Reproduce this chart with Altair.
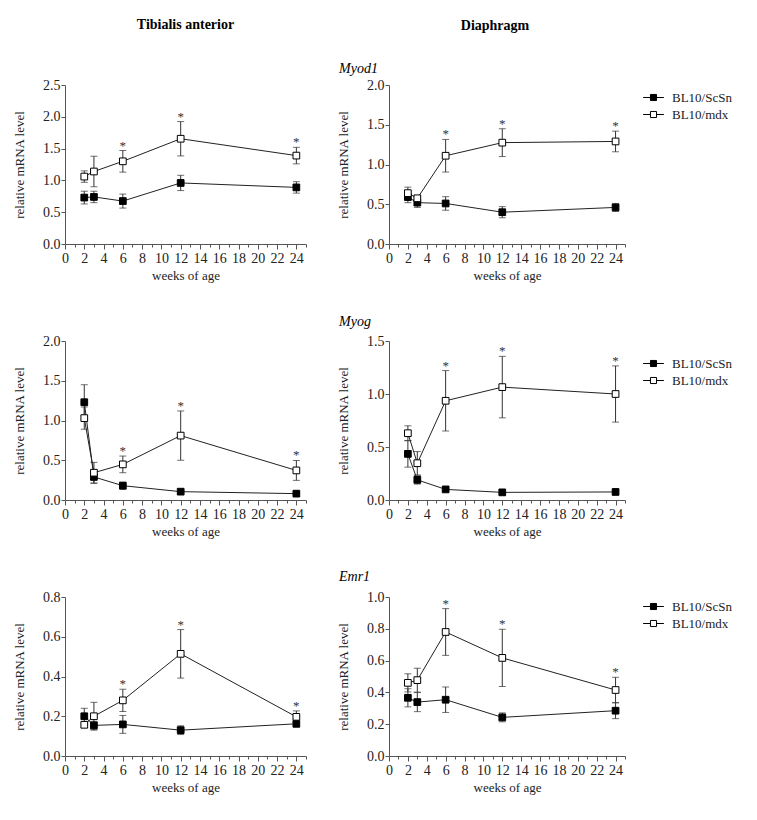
import altair as alt
import pandas as pd

SERIF = "Liberation Serif"

weeks = [2, 3, 6, 12, 24]
series_names = ["BL10/ScSn", "BL10/mdx"]
sig_weeks_mdx = [6, 12, 24]
x_ticks = list(range(0, 26))

# Tibialis anterior - Myod1
ta_myod1_scsn = [0.73, 0.74, 0.675, 0.96, 0.89]
ta_myod1_scsn_err = [0.10, 0.09, 0.11, 0.12, 0.09]
ta_myod1_mdx = [1.06, 1.14, 1.30, 1.655, 1.39]
ta_myod1_mdx_err = [0.09, 0.24, 0.17, 0.27, 0.13]
ta_myod1_yticks = [0.0, 0.5, 1.0, 1.5, 2.0, 2.5]

# Diaphragm - Myod1
dia_myod1_scsn = [0.59, 0.52, 0.51, 0.40, 0.46]
dia_myod1_scsn_err = [0.07, 0.06, 0.085, 0.07, 0.05]
dia_myod1_mdx = [0.64, 0.575, 1.11, 1.275, 1.29]
dia_myod1_mdx_err = [0.075, 0.03, 0.205, 0.175, 0.13]
dia_myod1_yticks = [0.0, 0.5, 1.0, 1.5, 2.0]

# Tibialis anterior - Myog
ta_myog_scsn = [1.23, 0.29, 0.18, 0.105, 0.08]
ta_myog_scsn_err = [0.22, 0.08, 0.045, 0.012, 0.01]
ta_myog_mdx = [1.03, 0.343, 0.448, 0.81, 0.372]
ta_myog_mdx_err = [0.14, 0.13, 0.105, 0.31, 0.125]
ta_myog_yticks = [0.0, 0.5, 1.0, 1.5, 2.0]

# Diaphragm - Myog
dia_myog_scsn = [0.435, 0.19, 0.10, 0.072, 0.076]
dia_myog_scsn_err = [0.125, 0.04, 0.012, 0.01, 0.008]
dia_myog_mdx = [0.63, 0.347, 0.936, 1.065, 1.0]
dia_myog_mdx_err = [0.07, 0.11, 0.285, 0.29, 0.265]
dia_myog_yticks = [0.0, 0.5, 1.0, 1.5]

# Tibialis anterior - Emr1
ta_emr1_scsn = [0.20, 0.154, 0.159, 0.13, 0.162]
ta_emr1_scsn_err = [0.04, 0.02, 0.045, 0.022, 0.015]
ta_emr1_mdx = [0.157, 0.20, 0.28, 0.514, 0.197]
ta_emr1_mdx_err = [0.012, 0.07, 0.056, 0.122, 0.03]
ta_emr1_yticks = [0.0, 0.2, 0.4, 0.6, 0.8]

# Diaphragm - Emr1
dia_emr1_scsn = [0.366, 0.339, 0.354, 0.243, 0.285]
dia_emr1_scsn_err = [0.057, 0.06, 0.08, 0.028, 0.05]
dia_emr1_mdx = [0.46, 0.477, 0.78, 0.617, 0.415]
dia_emr1_mdx_err = [0.057, 0.075, 0.147, 0.18, 0.08]
dia_emr1_yticks = [0.0, 0.2, 0.4, 0.6, 0.8, 1.0]

genes = ["Myod1", "Myog", "Emr1"]
muscles = ["Tibialis anterior", "Diaphragm"]

# style constants (positions of annotations / legends, in px)
GENE_DY = [-12, -15, -16]
LEGEND_Y = [4, 14, 1]
TITLE_OFFSET = [46, 29]
PANEL_W = [241, 236]
PANEL_H = 159

LEGEND_PATH = "M-1.3,0H-0.38M0.38,0H1.3M-0.38,-0.38H0.38V0.38H-0.38Z"


def make_df(scsn, scsn_err, mdx, mdx_err):
    rows = []
    for name, vals, errs in ((series_names[0], scsn, scsn_err),
                             (series_names[1], mdx, mdx_err)):
        for w, v, e in zip(weeks, vals, errs):
            rows.append(dict(week=w, series=name, value=v, lower=v - e, upper=v + e,
                             sig=int(name == series_names[1] and w in sig_weeks_mdx)))
    return pd.DataFrame(rows)


AX_STYLE = dict(labelFont=SERIF, titleFont=SERIF, labelFontSize=14, titleFontSize=13,
                titleFontWeight="normal", labelColor="#222", titleColor="#222",
                domainColor="#555", tickColor="#555", grid=False)


def panel(df, yticks, col, row):
    xs = alt.Scale(domain=[0, 25], nice=False)
    ys = alt.Scale(domain=[yticks[0], yticks[-1]], nice=False)
    xax = alt.Axis(values=x_ticks, labelExpr="datum.value % 2 === 0 ? datum.label : ''",
                   tickSize={"condition": {"test": "datum.value % 2 === 0", "value": 5}, "value": 3},
                   title="weeks of age", titlePadding=4, labelPadding=2,
                   labelFlush=False, labelOverlap=False, **AX_STYLE)
    yax = alt.Axis(values=yticks, format=".1f", title="relative mRNA level", titlePadding=16,
                   tickSize=4, labelPadding=1, **AX_STYLE)

    def X():
        return alt.X("week:Q", scale=xs, axis=xax)

    def Y(f):
        return alt.Y(f"{f}:Q", scale=ys, axis=yax)

    if col == 1:
        legend = alt.Legend(orient="none", legendX=256, legendY=LEGEND_Y[row], title=None,
                            symbolType=LEGEND_PATH, symbolSize=256, symbolStrokeColor="black",
                            symbolStrokeWidth=1, labelFont=SERIF, labelFontSize=13,
                            labelColor="#222", labelOffset=10, rowPadding=1, padding=0)
    else:
        legend = None

    base = alt.Chart(df)
    err = base.mark_errorbar(ticks=True, size=7, thickness=1, color="#333").encode(
        x=X(), y=Y("lower"), y2="upper:Q", detail="series:N")
    line = base.mark_line(color="#222", strokeWidth=1).encode(
        x=X(), y=Y("value"), detail="series:N")
    pts = base.mark_point(shape="square", size=45, stroke="black", strokeWidth=1, opacity=1).encode(
        x=X(), y=Y("value"),
        fill=alt.Fill("series:N", scale=alt.Scale(domain=series_names, range=["black", "white"]),
                      legend=legend))
    star = base.transform_filter(alt.datum.sig == 1).mark_text(
        text="*", font=SERIF, fontSize=13, color="#333", baseline="alphabetic", dy=-1).encode(
        x=X(), y=Y("upper"))
    layers = [err, line, pts, star]
    if col == 1:
        gene_layer = alt.Chart(pd.DataFrame({"gene": [genes[row]]})).mark_text(
            font=SERIF, fontSize=14, fontStyle="italic", align="left", baseline="alphabetic",
            color="black").encode(text="gene:N", x=alt.value(-50), y=alt.value(GENE_DY[row]))
        layers.append(gene_layer)
    ch = alt.layer(*layers).properties(width=PANEL_W[col], height=PANEL_H)
    if row == 0:
        ch = ch.properties(title=alt.TitleParams(
            text=muscles[col], font=SERIF, fontSize=14, fontWeight="bold", color="black",
            offset=TITLE_OFFSET[col], frame="group", dx=(0 if col == 0 else -12)))
    return ch


datasets = [
    (make_df(ta_myod1_scsn, ta_myod1_scsn_err, ta_myod1_mdx, ta_myod1_mdx_err), ta_myod1_yticks),
    (make_df(dia_myod1_scsn, dia_myod1_scsn_err, dia_myod1_mdx, dia_myod1_mdx_err), dia_myod1_yticks),
    (make_df(ta_myog_scsn, ta_myog_scsn_err, ta_myog_mdx, ta_myog_mdx_err), ta_myog_yticks),
    (make_df(dia_myog_scsn, dia_myog_scsn_err, dia_myog_mdx, dia_myog_mdx_err), dia_myog_yticks),
    (make_df(ta_emr1_scsn, ta_emr1_scsn_err, ta_emr1_mdx, ta_emr1_mdx_err), ta_emr1_yticks),
    (make_df(dia_emr1_scsn, dia_emr1_scsn_err, dia_emr1_mdx, dia_emr1_mdx_err), dia_emr1_yticks),
]

charts = []
for i, (df, yt) in enumerate(datasets):
    charts.append(panel(df, yt, i % 2, i // 2))

chart = alt.concat(*charts, columns=2, spacing={"row": 97, "column": 83}, bounds="flush")
chart = chart.resolve_scale(fill="independent").resolve_legend(fill="independent")
chart = chart.properties(padding={"left": 5, "top": 10, "right": 5, "bottom": 5}, background="white")
chart = chart.configure(
    font=SERIF,
    style={"guide-label": {"font": SERIF}, "guide-title": {"font": SERIF}},
).configure_view(stroke=None).configure_axis(
    labelFont=SERIF, titleFont=SERIF, titleFontSize=13)

chart.save("out.html", embed_options={"renderer": "svg", "actions": False})
